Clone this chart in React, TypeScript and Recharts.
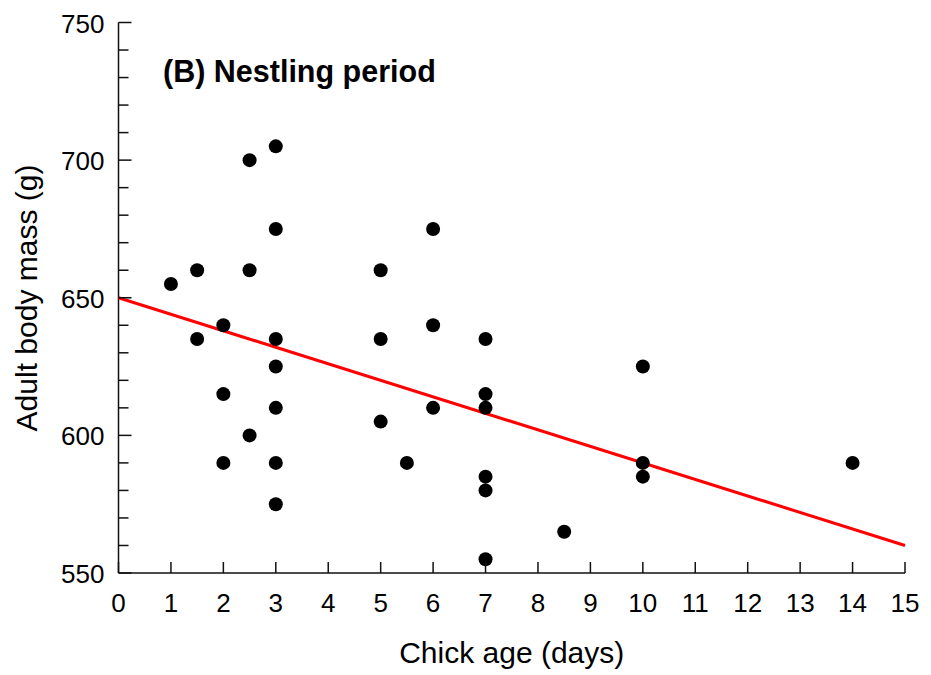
import React from 'react';
import { ScatterChart, Scatter, XAxis, YAxis } from 'recharts';

// chick age (days) and adult body mass (g), one entry per bird
const chickAge = [
  1, 1.5, 1.5, 2, 2, 2, 2.5, 2.5, 2.5,
  3, 3, 3, 3, 3, 3, 3,
  5, 5, 5, 5.5, 6, 6, 6,
  7, 7, 7, 7, 7, 7,
  8.5, 10, 10, 10, 14,
];
const bodyMass = [
  655, 660, 635, 640, 615, 590, 700, 660, 600,
  705, 675, 635, 625, 610, 590, 575,
  660, 635, 605, 590, 675, 640, 610,
  635, 615, 610, 585, 580, 555,
  565, 625, 590, 585, 590,
];

// fitted regression line end points
const fitAge = [0, 15];
const fitMass = [650, 560];

const xTicks = [0, 1, 2, 3, 4, 5, 6, 7, 8, 9, 10, 11, 12, 13, 14, 15];
const yTicks = [
  550, 560, 570, 580, 590, 600, 610, 620, 630, 640, 650,
  660, 670, 680, 690, 700, 710, 720, 730, 740, 750,
];

const points = chickAge.map((x, i) => ({ x, y: bodyMass[i] }));
const fitLine = fitAge.map((x, i) => ({ x, y: fitMass[i] }));

const FONT = '"Liberation Sans", Arial, sans-serif';
const W = 931;
const H = 675;

const BottomTick = (props: any) => {
  const { x, y, payload } = props;
  return (
    <g>
      <line x1={x} y1={y} x2={x} y2={y - 11} stroke="#111" strokeWidth={1.5} />
      <text x={x} y={y + 39} textAnchor="middle" fontSize={26} fontFamily={FONT} fill="#000">
        {payload.value}
      </text>
    </g>
  );
};

const LeftTick = (props: any) => {
  const { x, y, payload } = props;
  const major = payload.value % 50 === 0;
  return (
    <g>
      <line x1={x} y1={y} x2={x + (major ? 13 : 10)} y2={y} stroke="#111" strokeWidth={1.5} />
      {major && (
        <text x={x - 14} y={y + 10} textAnchor="end" fontSize={26} fontFamily={FONT} fill="#000">
          {payload.value}
        </text>
      )}
    </g>
  );
};

const RightTick = (props: any) => {
  const { x, y, payload } = props;
  const major = payload.value % 50 === 0;
  return <line x1={x} y1={y} x2={x - (major ? 13 : 10)} y2={y} stroke="#111" strokeWidth={1.5} />;
};

const Dot = (props: any) => <circle cx={props.cx} cy={props.cy} r={7} fill="#000" />;

export default function App() {
  return (
    <div style={{ position: 'absolute', left: 0, top: 0, width: W, height: H, background: '#fff' }}>
      <ScatterChart width={W} height={H} margin={{ top: 22.5, right: 26, bottom: 0, left: 0 }}>
        <XAxis
          dataKey="x"
          type="number"
          domain={[0, 15]}
          ticks={xTicks}
          interval={0}
          height={102}
          tickSize={0}
          tickMargin={0}
          tickLine={false}
          tick={<BottomTick />}
          axisLine={{ stroke: '#111', strokeWidth: 1.5 }}
          label={{ value: 'Chick age (days)', position: 'insideBottom', offset: 12, fontSize: 30, fontFamily: FONT, fill: '#000' }}
        />
        <XAxis
          xAxisId="top"
          orientation="top"
          type="number"
          domain={[0, 15]}
          height={0}
          tick={false}
          tickLine={false}
          axisLine={{ stroke: '#111', strokeWidth: 1.5 }}
        />
        <YAxis
          dataKey="y"
          type="number"
          domain={[550, 750]}
          ticks={yTicks}
          interval={0}
          width={118.5}
          tickSize={0}
          tickMargin={0}
          tickLine={false}
          tick={<LeftTick />}
          axisLine={{ stroke: '#111', strokeWidth: 1.5 }}
        />
        <YAxis
          yAxisId="right"
          orientation="right"
          type="number"
          domain={[550, 750]}
          ticks={yTicks}
          interval={0}
          width={0}
          tickSize={0}
          tickMargin={0}
          tickLine={false}
          tick={<RightTick />}
          axisLine={{ stroke: '#111', strokeWidth: 1.5 }}
        />
        <Scatter
          data={fitLine}
          line={{ stroke: '#ff0000', strokeWidth: 3 }}
          shape={() => <g />}
          isAnimationActive={false}
        />
        <Scatter data={points} shape={<Dot />} isAnimationActive={false} />
      </ScatterChart>
      <svg
        width={W}
        height={H}
        style={{ position: 'absolute', left: 0, top: 0, pointerEvents: 'none' }}
      >
        <text
          transform="translate(37, 298) rotate(-90)"
          textAnchor="middle"
          fontSize={30}
          fontFamily={FONT}
          fill="#000"
        >
          Adult body mass (g)
        </text>
        <text x={163} y={82} fontSize={30.5} fontWeight="bold" fontFamily={FONT} fill="#000">
          (B) Nestling period
        </text>
      </svg>
    </div>
  );
}
